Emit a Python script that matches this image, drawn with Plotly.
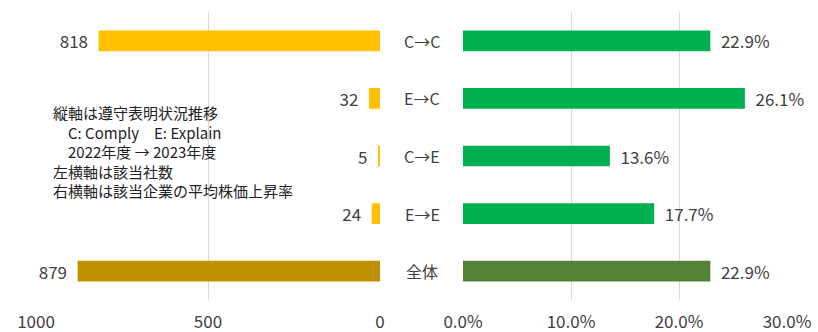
import plotly.graph_objects as go

categories = ["C→C", "E→C", "C→E", "E→E", "全体"]
counts = [818, 32, 5, 24, 879]
rates = [22.9, 26.1, 13.6, 17.7, 22.9]
count_colors = ["#FFC000", "#FFC000", "#FFC000", "#FFC000", "#BF9000"]
rate_colors = ["#00B050", "#00B050", "#00B050", "#00B050", "#548235"]
left_ticks = [1000, 500, 0]
right_ticks = [0, 10, 20, 30]
right_ticklabels = ["0.0%", "10.0%", "20.0%", "30.0%"]
note_lines = ["縦軸は遵守表明状況推移", "　C: Comply　E: Explain", "　2022年度 → 2023年度", "左横軸は該当社数", "右横軸は該当企業の平均株価上昇率"]

FONT = "Noto Sans CJK JP"
TXT = "#404040"

fig = go.Figure()
fig.add_trace(go.Bar(
    y=categories, x=counts, orientation="h", marker=dict(color=count_colors, line=dict(width=0)),
    width=0.36, text=[f"{v}  " for v in counts], textposition="outside", cliponaxis=False,
    constraintext="none",
    textfont=dict(size=17, color=TXT, family=FONT), xaxis="x", yaxis="y", showlegend=False))
fig.add_trace(go.Bar(
    y=categories, x=rates, orientation="h", marker=dict(color=rate_colors, line=dict(width=0)),
    width=0.36, text=[f"  {v:.1f}%" for v in rates], textposition="outside", cliponaxis=False,
    constraintext="none",
    textfont=dict(size=17, color=TXT, family=FONT), xaxis="x2", yaxis="y2", showlegend=False))

W, H = 818, 332
ml, mr, mt, mb = 36, 31, 12, 32
pw = W - ml - mr
d1 = (380 - ml) / pw
d2 = (463 - ml) / pw

axis_common = dict(showgrid=True, gridcolor="#D9D9D9", gridwidth=1, zeroline=False, showline=False,
                   ticks="", tickfont=dict(size=17, color=TXT, family=FONT), ticklabelstandoff=10,
                   automargin=False)
fig.update_layout(
    width=W, height=H, margin=dict(l=ml, r=mr, t=mt, b=mb, autoexpand=False),
    plot_bgcolor="white", paper_bgcolor="white", bargap=0.6,
    xaxis=dict(domain=[0, d1], range=[1000, 0], tickvals=left_ticks, ticktext=[str(t) for t in left_ticks], **axis_common),
    xaxis2=dict(domain=[d2, 1], range=[0, 30], tickvals=right_ticks, ticktext=right_ticklabels, **axis_common),
    yaxis=dict(autorange="reversed", showticklabels=False, showgrid=False, zeroline=False, anchor="x", automargin=False),
    yaxis2=dict(autorange="reversed", showticklabels=False, showgrid=False, zeroline=False, anchor="x2", matches="y", automargin=False),
)

cat_x = (422 - ml) / pw
for c in categories:
    fig.add_annotation(x=cat_x, xref="paper", y=c, yref="y", text=c, showarrow=False,
                       font=dict(size=16, color=TXT, family=FONT), xanchor="center", yanchor="middle")

fig.add_annotation(x=(51 - ml) / pw, xref="paper", y=1 - (100 - mt) / (H - mt - mb), yref="paper",
                   text="<br>".join(note_lines), showarrow=False, align="left", xanchor="left", yanchor="top",
                   font=dict(size=15, color="#222222", family=FONT))

fig.write_html("out.html")
